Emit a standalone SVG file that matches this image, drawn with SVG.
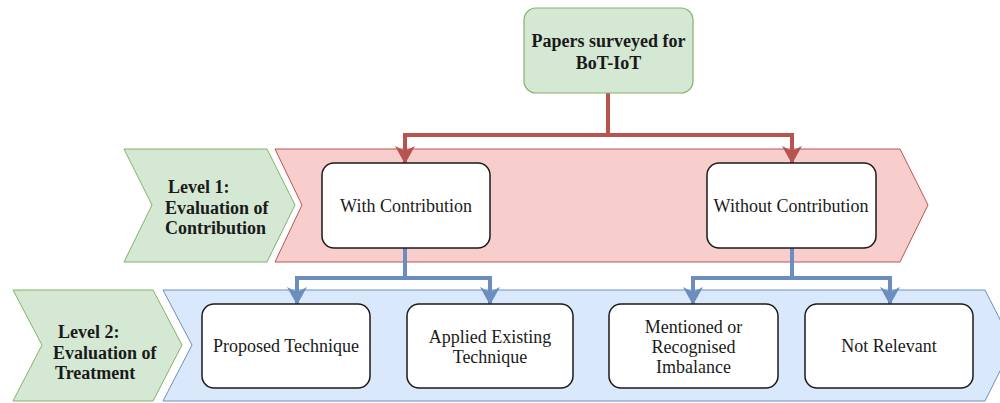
<svg xmlns="http://www.w3.org/2000/svg" width="1000" height="403" viewBox="0 0 1000 403">
<style>
.band-g{fill:#d5e8d4;stroke:#82b366;stroke-width:1}
.band-r{fill:#f8cecc;stroke:#b85450;stroke-width:1}
.band-b{fill:#dae8fc;stroke:#6c8ebf;stroke-width:1}
.box{fill:#ffffff;stroke:#1a1a1a;stroke-width:1.5}
.top{fill:#d5e8d4;stroke:#82b366;stroke-width:1.2}
.t{font-family:"Liberation Serif","Times New Roman",serif;font-size:18px;fill:#1a1a1a;text-anchor:middle}
.tb{font-family:"Liberation Serif","Times New Roman",serif;font-size:18px;font-weight:bold;fill:#1a1a1a}
.red{fill:none;stroke:#b85450;stroke-width:4}
.blue{fill:none;stroke:#6c8ebf;stroke-width:4}
</style>
<defs>
<marker id="ar" markerUnits="userSpaceOnUse" markerWidth="20" markerHeight="20" viewBox="0 0 18 20" refX="17" refY="10" orient="auto">
<path d="M0,0 L18,10 L0,20 L5,10 Z" fill="#b85450"/>
</marker>
<marker id="ab" markerUnits="userSpaceOnUse" markerWidth="20" markerHeight="20" viewBox="0 0 18 20" refX="17" refY="10" orient="auto">
<path d="M0,0 L18,10 L0,20 L5,10 Z" fill="#6c8ebf"/>
</marker>
</defs>

<g id="level1-band">
<polygon class="band-r" points="275,149 900,149 928,205 900,262 275,262 302,205"/>
</g>
<g id="level2-band">
<polygon class="band-b" points="163,290 985,290 1013,345 985,401 163,401 192,345"/>
</g>
<g id="level1-label">
<polygon class="band-g" points="124,149 267,149 295,205 267,262 124,262 152,205"/>
<text class="tb" x="168" y="193">Level 1:</text>
<text class="tb" x="165" y="214">Evaluation of</text>
<text class="tb" x="165" y="234">Contribution</text>
</g>
<g id="level2-label">
<polygon class="band-g" points="13,290 153,290 182,345 153,401 13,401 42,345"/>
<text class="tb" x="58" y="338">Level 2:</text>
<text class="tb" x="53" y="359">Evaluation of</text>
<text class="tb" x="55" y="379">Treatment</text>
</g>

<g id="connectors">
<path class="red" d="M608,93 V135 M403,135 H794"/>
<path class="red" d="M405,135 V163" marker-end="url(#ar)"/>
<path class="red" d="M792,135 V163" marker-end="url(#ar)"/>
<path class="blue" d="M405,248 V278 M295,278 H492"/>
<path class="blue" d="M297,278 V304" marker-end="url(#ab)"/>
<path class="blue" d="M490,278 V304" marker-end="url(#ab)"/>
<path class="blue" d="M792,248 V278 M691,278 H892"/>
<path class="blue" d="M693,278 V304" marker-end="url(#ab)"/>
<path class="blue" d="M890,278 V304" marker-end="url(#ab)"/>
</g>

<g id="papers-surveyed">
<rect class="top" x="524" y="8" width="169" height="85" rx="12"/>
<text class="tb" x="608.5" y="47" text-anchor="middle">Papers surveyed for</text>
<text class="tb" x="608.5" y="69" text-anchor="middle">BoT-IoT</text>
</g>
<g id="with-contribution">
<rect class="box" x="322" y="163" width="168" height="85" rx="12"/>
<text class="t" x="406" y="212">With Contribution</text>
</g>
<g id="without-contribution">
<rect class="box" x="707" y="163" width="169" height="85" rx="12"/>
<text class="t" x="791" y="212">Without Contribution</text>
</g>
<g id="proposed-technique">
<rect class="box" x="202" y="304" width="168" height="84" rx="12"/>
<text class="t" x="286" y="352">Proposed Technique</text>
</g>
<g id="applied-existing">
<rect class="box" x="407" y="304" width="166" height="84" rx="12"/>
<text class="t" x="490" y="343">Applied Existing</text>
<text class="t" x="490" y="363">Technique</text>
</g>
<g id="mentioned-imbalance">
<rect class="box" x="609" y="304" width="169" height="84" rx="12"/>
<text class="t" x="693.5" y="333">Mentioned or</text>
<text class="t" x="693.5" y="353">Recognised</text>
<text class="t" x="693.5" y="373">Imbalance</text>
</g>
<g id="not-relevant">
<rect class="box" x="805" y="304" width="168" height="84" rx="12"/>
<text class="t" x="889" y="352">Not Relevant</text>
</g>
</svg>
